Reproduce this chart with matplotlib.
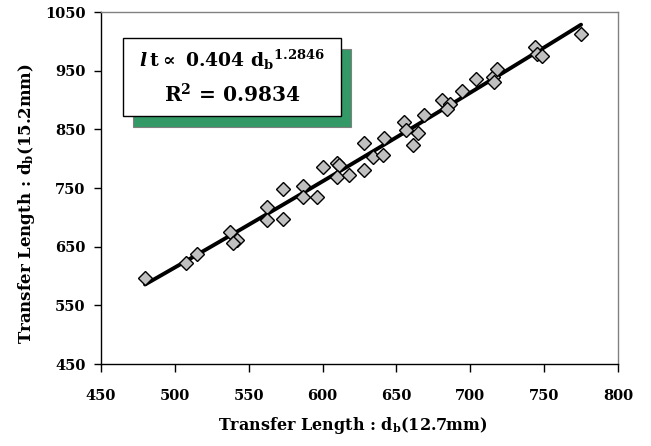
import numpy as np
import matplotlib
matplotlib.use('Agg')
import matplotlib.pyplot as plt
from matplotlib.patches import Rectangle

plt.rcParams['font.family'] = ['DejaVu Serif']
plt.rcParams['font.weight'] = 'bold'
plt.rcParams['mathtext.fontset'] = 'custom'
plt.rcParams['mathtext.rm'] = 'DejaVu Serif:bold'
plt.rcParams['mathtext.it'] = 'DejaVu Serif:bold:italic'
plt.rcParams['mathtext.bf'] = 'DejaVu Serif:bold'

# transfer length, 12.7mm strand vs 15.2mm strand
db_127 = [479.8, 507.5, 514.8, 537.3, 541.9, 539.2, 562.2, 562.2, 573.0, 573.0,
          586.5, 586.5, 596.5, 600.0, 609.5, 611.3, 609.6, 618.0, 628.0, 634.0,
          641.0, 628.0, 641.6, 655.0, 656.5, 664.8, 661.5, 668.7, 680.6, 686.3,
          684.0, 694.2, 703.6, 715.6, 718.3, 716.0, 743.8, 745.0, 748.4, 775.0]
db_152 = [596, 622, 637, 675, 662, 657, 717, 695, 748, 697,
          753, 735, 735, 786, 792, 789, 769, 772, 780, 803,
          806, 826, 835, 863, 849, 843, 823, 874, 900, 894,
          884, 915, 935, 940, 952, 931, 991, 979, 975, 1012]

x_ticks = [450, 500, 550, 600, 650, 700, 750, 800]
y_ticks = [450, 550, 650, 750, 850, 950, 1050]

fig = plt.figure(figsize=(6.51, 4.46), dpi=100)
ax = fig.add_axes([101/651, 1-364/446, 517/651, 352/446])

# power trendline fitted from the points
x = np.array(db_127)
y = np.array(db_152)
b, lna = np.polyfit(np.log(x), np.log(y), 1)
xf = np.linspace(x.min(), x.max(), 60)
ax.plot(xf, np.exp(lna) * xf ** b, color='black', linewidth=2.8, zorder=2,
        solid_capstyle='round')

ax.plot(db_127, db_152, linestyle='none', marker='D', markersize=7.3,
        markerfacecolor='#c0c0c0', markeredgecolor='black', markeredgewidth=1.0,
        zorder=3)

ax.set_xlim(450, 800)
ax.set_ylim(450, 1050)
ax.set_xticks(x_ticks)
ax.set_yticks(y_ticks)
ax.tick_params(axis='x', direction='out', length=6, width=1, pad=12, labelsize=10.5)
ax.tick_params(axis='y', direction='out', length=5, width=1, pad=6, labelsize=10.5)
for lab in ax.get_xticklabels() + ax.get_yticklabels():
    lab.set_fontweight('bold')

ax.spines['left'].set_color('black')
ax.spines['bottom'].set_color('black')
ax.spines['top'].set_color('#808080')
ax.spines['right'].set_color('#808080')
for s in ax.spines.values():
    s.set_linewidth(1.0)

# equation box with green shadow
bx0, bx1 = (123-101)/517, (341-101)/517
by0, by1 = (364-116)/352, (364-38)/352
dx, dy = 10/517, -11/352
ax.add_patch(Rectangle((bx0+dx, by0+dy), bx1-bx0, by1-by0, transform=ax.transAxes,
                       facecolor='#339966', edgecolor='#808080', linewidth=0.8, zorder=4))
ax.add_patch(Rectangle((bx0, by0), bx1-bx0, by1-by0, transform=ax.transAxes,
                       facecolor='white', edgecolor='black', linewidth=1.0, zorder=5))
cx = (bx0 + bx1) / 2
ax.text(cx, (364-60)/352, r'$\mathit{l}\,\mathrm{t}\propto\ \mathrm{0.404\ d_b{}^{1.2846}}$',
        transform=ax.transAxes, ha='center', va='center', fontsize=13.5, zorder=6)
ax.text(cx, (364-95)/352, r'$\mathrm{R^2}$ = 0.9834', transform=ax.transAxes,
        ha='center', va='center', fontsize=14.5, fontweight='bold', zorder=6)

fig.text(353/651, 1-426/446, r'Transfer Length : d$_\mathrm{b}$(12.7mm)',
         ha='center', va='center', fontsize=11.5, fontweight='bold')
fig.text(27/651, 1-204/446, r'Transfer Length : d$_\mathrm{b}$(15.2mm)',
         ha='center', va='center', rotation=90, fontsize=12, fontweight='bold')

fig.savefig('out.png', dpi=100)
